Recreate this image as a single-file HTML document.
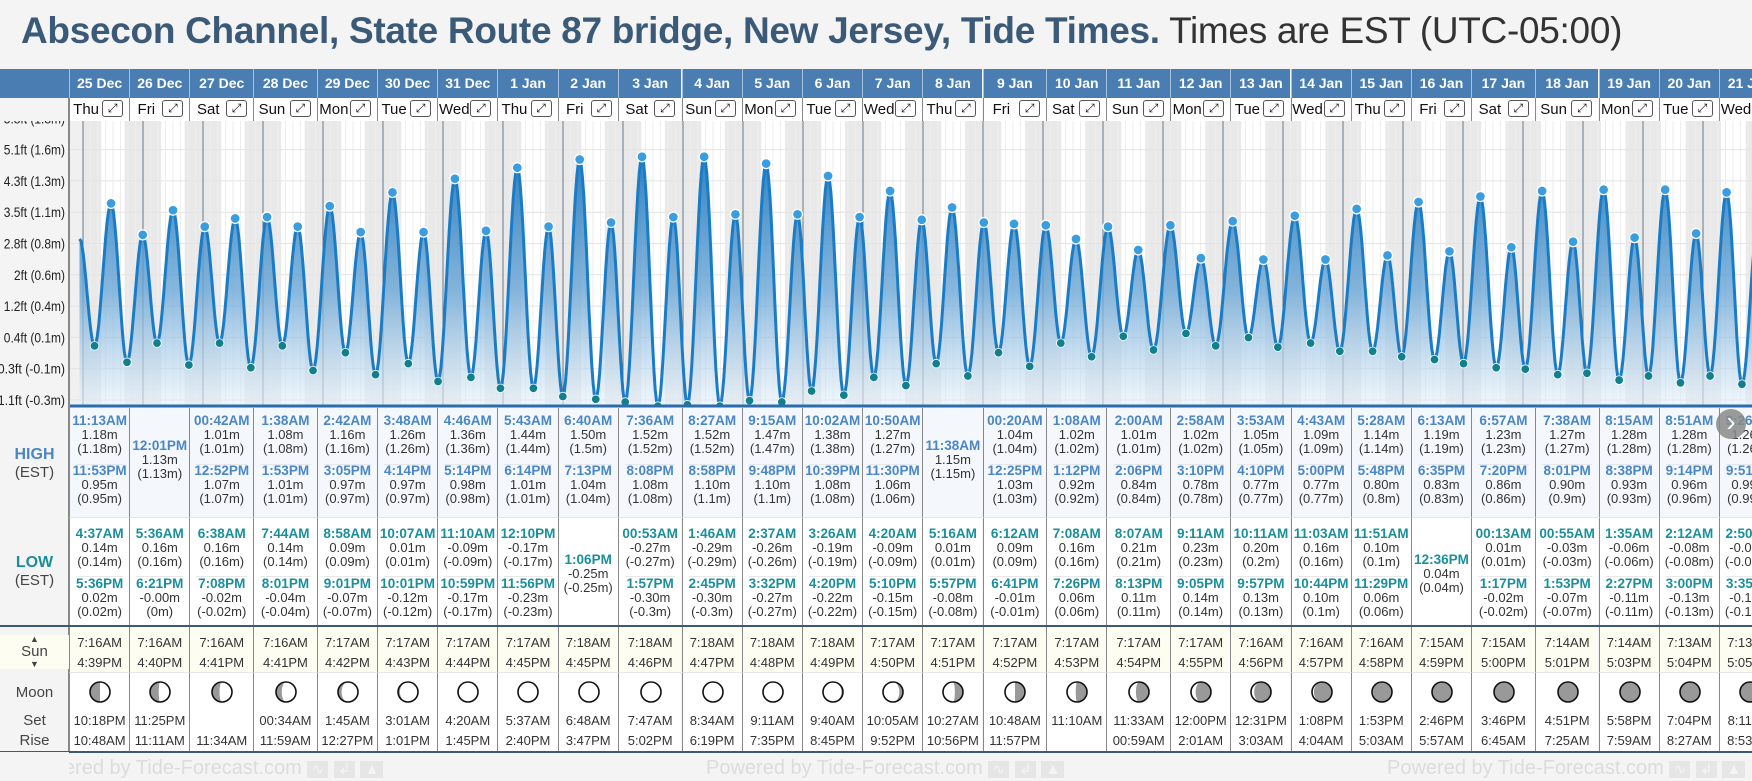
<!DOCTYPE html>
<html><head><meta charset="utf-8">
<style>
*{box-sizing:border-box;margin:0;padding:0}
body{width:1752px;height:781px;background:#f4f4f4;font-family:"Liberation Sans",sans-serif;position:relative;overflow:hidden}
#title{position:absolute;left:21px;top:10px;font-size:37px;white-space:nowrap;color:#3b5a78;letter-spacing:-0.3px}
#title b{font-weight:bold}
#title span{color:#333;font-weight:normal}
.abs{position:absolute}
.hdr{position:absolute;top:69px;height:29px;background:#4a7db2;color:#fff;font-weight:bold;font-size:14px;text-align:center;line-height:29px;border-left:1px solid #a9c2dc}
.dn{position:absolute;top:98px;height:23px;background:#fff;font-size:15px;line-height:23px;border-left:1px solid #888;color:#111}
.dn i{position:absolute;right:6px;top:2px;width:21px;height:17px;border:1px solid #555;border-radius:3px;font-style:normal;font-size:12px;line-height:15px;text-align:center}
.col{position:absolute;border-left:1px solid #888;text-align:center;font-size:13px;color:#333;line-height:14px}
.t{font-weight:bold;font-size:13.5px}
.hi .t{color:#4a86c5}.lo .t{color:#1a8f9b}
.lbl{position:absolute;left:0;width:69px;text-align:center;color:#444;font-size:15px}
.ft{position:absolute;top:757px;font-size:20px;color:#dcdcdc;white-space:nowrap}
</style></head><body>
<div id="title"><b>Absecon Channel, State Route 87 bridge, New Jersey, Tide Times.</b> <span>Times are EST (UTC-05:00)</span></div>
<div class="abs" style="left:0;top:69px;width:69px;height:29px;background:#4a7db2"></div>
<div class="abs" style="left:0;top:98px;width:69px;height:654px;background:#f4f4f4;border-right:1px solid #888"></div>
<svg id="chart" class="abs" style="left:0;top:0" width="1752" height="781"></svg>
<div id="root"></div>
<script>
const days=["25 Dec","26 Dec","27 Dec","28 Dec","29 Dec","30 Dec","31 Dec","1 Jan","2 Jan","3 Jan","4 Jan","5 Jan","6 Jan","7 Jan","8 Jan","9 Jan","10 Jan","11 Jan","12 Jan","13 Jan","14 Jan","15 Jan","16 Jan","17 Jan","18 Jan","19 Jan","20 Jan","21 Jan"];
const weekdays=["Thu","Fri","Sat","Sun","Mon","Tue","Wed","Thu","Fri","Sat","Sun","Mon","Tue","Wed","Thu","Fri","Sat","Sun","Mon","Tue","Wed","Thu","Fri","Sat","Sun","Mon","Tue","Wed"];
const highTimes=[["11:13AM","11:53PM"],["12:01PM"],["00:42AM","12:52PM"],["1:38AM","1:53PM"],["2:42AM","3:05PM"],["3:48AM","4:14PM"],["4:46AM","5:14PM"],["5:43AM","6:14PM"],["6:40AM","7:13PM"],["7:36AM","8:08PM"],["8:27AM","8:58PM"],["9:15AM","9:48PM"],["10:02AM","10:39PM"],["10:50AM","11:30PM"],["11:38AM"],["00:20AM","12:25PM"],["1:08AM","1:12PM"],["2:00AM","2:06PM"],["2:58AM","3:10PM"],["3:53AM","4:10PM"],["4:43AM","5:00PM"],["5:28AM","5:48PM"],["6:13AM","6:35PM"],["6:57AM","7:20PM"],["7:38AM","8:01PM"],["8:15AM","8:38PM"],["8:51AM","9:14PM"],["9:26AM","9:51PM"]];
const highHeights=[[1.18,0.95],[1.13],[1.01,1.07],[1.08,1.01],[1.16,0.97],[1.26,0.97],[1.36,0.98],[1.44,1.01],[1.50,1.04],[1.52,1.08],[1.52,1.10],[1.47,1.10],[1.38,1.08],[1.27,1.06],[1.15],[1.04,1.03],[1.02,0.92],[1.01,0.84],[1.02,0.78],[1.05,0.77],[1.09,0.77],[1.14,0.80],[1.19,0.83],[1.23,0.86],[1.27,0.90],[1.28,0.93],[1.28,0.96],[1.26,0.99]];
const lowTimes=[["4:37AM","5:36PM"],["5:36AM","6:21PM"],["6:38AM","7:08PM"],["7:44AM","8:01PM"],["8:58AM","9:01PM"],["10:07AM","10:01PM"],["11:10AM","10:59PM"],["12:10PM","11:56PM"],["1:06PM"],["00:53AM","1:57PM"],["1:46AM","2:45PM"],["2:37AM","3:32PM"],["3:26AM","4:20PM"],["4:20AM","5:10PM"],["5:16AM","5:57PM"],["6:12AM","6:41PM"],["7:08AM","7:26PM"],["8:07AM","8:13PM"],["9:11AM","9:05PM"],["10:11AM","9:57PM"],["11:03AM","10:44PM"],["11:51AM","11:29PM"],["12:36PM"],["00:13AM","1:17PM"],["00:55AM","1:53PM"],["1:35AM","2:27PM"],["2:12AM","3:00PM"],["2:50AM","3:35PM"]];
const lowHeights=[[0.14,0.02],[0.16,-0.00],[0.16,-0.02],[0.14,-0.04],[0.09,-0.07],[0.01,-0.12],[-0.09,-0.17],[-0.17,-0.23],[-0.25],[-0.27,-0.30],[-0.29,-0.30],[-0.26,-0.27],[-0.19,-0.22],[-0.09,-0.15],[0.01,-0.08],[0.09,-0.01],[0.16,0.06],[0.21,0.11],[0.23,0.14],[0.20,0.13],[0.16,0.10],[0.10,0.06],[0.04],[0.01,-0.02],[-0.03,-0.07],[-0.06,-0.11],[-0.08,-0.13],[-0.08,-0.14]];
const sunrise=["7:16AM","7:16AM","7:16AM","7:16AM","7:17AM","7:17AM","7:17AM","7:17AM","7:18AM","7:18AM","7:18AM","7:18AM","7:18AM","7:17AM","7:17AM","7:17AM","7:17AM","7:17AM","7:17AM","7:16AM","7:16AM","7:16AM","7:15AM","7:15AM","7:14AM","7:14AM","7:13AM","7:13AM"];
const sunset=["4:39PM","4:40PM","4:41PM","4:41PM","4:42PM","4:43PM","4:44PM","4:45PM","4:45PM","4:46PM","4:47PM","4:48PM","4:49PM","4:50PM","4:51PM","4:52PM","4:53PM","4:54PM","4:55PM","4:56PM","4:57PM","4:58PM","4:59PM","5:00PM","5:01PM","5:03PM","5:04PM","5:05PM"];
const moonSet=["10:18PM","11:25PM","","00:34AM","1:45AM","3:01AM","4:20AM","5:37AM","6:48AM","7:47AM","8:34AM","9:11AM","9:40AM","10:05AM","10:27AM","10:48AM","11:10AM","11:33AM","12:00PM","12:31PM","1:08PM","1:53PM","2:46PM","3:46PM","4:51PM","5:58PM","7:04PM","8:11PM"];
const moonRise=["10:48AM","11:11AM","11:34AM","11:59AM","12:27PM","1:01PM","1:45PM","2:40PM","3:47PM","5:02PM","6:19PM","7:35PM","8:45PM","9:52PM","10:56PM","11:57PM","","00:59AM","2:01AM","3:03AM","4:04AM","5:03AM","5:57AM","6:45AM","7:25AM","7:59AM","8:27AM","8:53AM"];
const moonPhase=[0.25,0.27,0.29,0.32,0.36,0.4,0.43,0.46,0.48,0.5,0.52,0.55,0.59,0.64,0.72,0.75,0.77,0.8,0.84,0.87,0.9,0.93,0.96,0.985,0.995,0.01,0.03,0.05];
const yTicks=["-1.1ft (-0.3m)","-0.3ft (-0.1m)","0.4ft (0.1m)","1.2ft (0.4m)","2ft (0.6m)","2.8ft (0.8m)","3.5ft (1.1m)","4.3ft (1.3m)","5.1ft (1.6m)","5.8ft (1.8m)"];

const NS="http://www.w3.org/2000/svg";
const svg=document.getElementById('chart');
const root=document.getElementById('root');
const CX0=83,PXH=2.5,CT=121,CB=406;
function hrs(s){let m=s.match(/(\d+):(\d+)(AM|PM)/);let h=+m[1]%12;if(m[3]=="PM")h+=12;return h+(+m[2])/60;}
function xT(d,h){return CX0+(d*24+h)*PXH;}
function yM(m){return 365-137*m;}
function el(t,a,p){const e=document.createElementNS(NS,t);for(const k in a)e.setAttribute(k,a[k]);(p||svg).appendChild(e);return e;}
const colX=[];let cx=69;
days.forEach((d,i)=>{colX.push(cx);const all=[...highTimes[i],...lowTimes[i],moonSet[i],moonRise[i]].join(' ');cx+=60.2+(all.indexOf('00:')>=0?3.5:0);});
colX.push(cx);
const defs=el('defs',{});
const cp=el('clipPath',{id:'cc'},defs);el('rect',{x:69,y:CT,width:1683,height:CB-CT},cp);
const cp2=el('clipPath',{id:'yc'},defs);el('rect',{x:0,y:CT,width:69,height:CB-CT+6},cp2);
const lg=el('linearGradient',{id:'ag',x1:0,y1:150,x2:0,y2:CB,gradientUnits:'userSpaceOnUse'},defs);
el('stop',{offset:0,'stop-color':'#1f78bf','stop-opacity':0.95},lg);
el('stop',{offset:0.55,'stop-color':'#6aa6d6','stop-opacity':0.8},lg);
el('stop',{offset:1,'stop-color':'#e6f1fa','stop-opacity':0.6},lg);
const g=el('g',{'clip-path':'url(#cc)'});

el('rect',{x:69,y:CT,width:1683,height:CB-CT,fill:'#fff'},g);
el('rect',{x:69,y:CT,width:14,height:CB-CT,fill:'#f0f0f0'},g);
for(let i=0;i<days.length;i++){
  const s=xT(i,hrs(sunset[i])),r=i+1<days.length?xT(i+1,hrs(sunrise[i+1])):xT(i+1,7.2);
  const n=el('rect',{x:s,y:CT,width:r-s,height:CB-CT,fill:'#e9e9e9'},g);
  
}
el('rect',{x:CX0,y:CT,width:xT(0,hrs(sunrise[0]))-CX0,height:CB-CT,fill:'#e9e9e9'},g);
for(let k=0;k<days.length*8;k++){const x=CX0+k*3*PXH;if(k%8)el('line',{x1:x,x2:x,y1:CT,y2:CB,stroke:'#eeeeee','stroke-width':1},g);}
yTicks.forEach((t,i)=>{const y=400-31.3*i;el('line',{x1:69,x2:1752,y1:y,y2:y,stroke:'#e4e4e4'},g);});
for(let i=0;i<=days.length;i++){const x=xT(i,0);const l=el('line',{x1:x,x2:x,y1:CT,y2:CB,stroke:'#66788a','stroke-width':1},g);}
const ext=[{d:-1,h:22.6,m:0.92,k:'h'}];
days.forEach((d,i)=>{highTimes[i].forEach((t,j)=>ext.push({d:i,h:hrs(t),m:highHeights[i][j],k:'h'}));lowTimes[i].forEach((t,j)=>ext.push({d:i,h:hrs(t),m:lowHeights[i][j],k:'l'}));});
ext.push({d:28,h:4.2,m:-0.08,k:'l'});
ext.forEach(e=>{e.x=xT(e.d,e.h);e.y=yM(e.m);});ext.sort((a,b)=>a.x-b.x);
let pts=[];
for(let i=0;i<ext.length-1;i++){const a=ext[i],b=ext[i+1];for(let s=0;s<12;s++){const f=s/12,c=(1-Math.cos(Math.PI*f))/2;pts.push([a.x+(b.x-a.x)*f,a.y+(b.y-a.y)*c]);}}
pts.push([ext[ext.length-1].x,ext[ext.length-1].y]);
const ln=pts.map(p=>p[0].toFixed(1)+','+p[1].toFixed(1)).join(' L');
const area=el('path',{d:'M'+pts[0][0]+','+CB+' L'+ln+' L'+pts[pts.length-1][0]+','+CB+' Z',fill:'url(#ag)'},g);

const line=el('path',{d:'M'+ln,fill:'none',stroke:'#1b7cc6','stroke-width':3},g);

ext.forEach(e=>{if(e.d<0||e.d>27)return;const c=el('circle',{cx:e.x,cy:e.y,r:e.k=='h'?5:4.3,fill:e.k=='h'?'#3a9de0':'#12808c',stroke:'#fff','stroke-width':e.k=='h'?1.3:0.8},g);
});
el('line',{x1:69,x2:1752,y1:CB,y2:CB,stroke:'#2b6cad','stroke-width':3});
el('line',{x1:69.5,x2:69.5,y1:98,y2:752,stroke:'#888','stroke-width':1});
const yg=el('g',{'clip-path':'url(#yc)'});
yTicks.forEach((t,i)=>{const y=400-31.3*i;const tx=el('text',{x:65,y:y+5,'text-anchor':'end','font-size':14,fill:'#222',textLength:(t.length*5.1).toFixed(1),lengthAdjust:'spacingAndGlyphs'},yg);tx.textContent=t;});
function add(html,cls,style,name,inter){const d=document.createElement('div');d.className=cls;d.setAttribute('style',style);d.innerHTML=html;


root.appendChild(d);return d;}
function entry(t,m,top){return `<div style="position:absolute;left:0;right:0;top:${top}px"><div class="t">${t}</div><div>${(m<0||Object.is(m,-0)?'-':'')+Math.abs(m).toFixed(2)}m</div><div>(${m<0?'-':''}${Math.abs(m)==0?'0':Math.abs(+m.toFixed(2))}m)</div></div>`;}
days.forEach((d,i)=>{
  const x=colX[i],w=colX[i+1]-x;
  add(d,'hdr',`left:${x}px;width:${w}px`,'date-header',false);
  add(`<span style="position:absolute;left:0;width:${w-28}px;text-align:center">${weekdays[i]}</span><i>⤢</i>`,'dn',`left:${x}px;width:${w}px`,'day-expand-button',true);
  const H=highTimes[i],L=lowTimes[i];
  let hh=H.length==2?entry(H[0],highHeights[i][0],6)+`<div style="position:absolute;left:6px;right:6px;top:56px;border-top:1px solid #e4e8ec"></div>`+entry(H[1],highHeights[i][1],56):entry(H[0],highHeights[i][0],31);
  add(hh,'col hi',`left:${x}px;width:${w}px;top:408px;height:109px;background:#f4f8fc`,'high-tide-cell',false);
  let lh=L.length==2?entry(L[0],lowHeights[i][0],9)+`<div style="position:absolute;left:6px;right:6px;top:58px;border-top:1px solid #e8e8e8"></div>`+entry(L[1],lowHeights[i][1],59):entry(L[0],lowHeights[i][0],35);
  add(lh,'col lo',`left:${x}px;width:${w}px;top:517px;height:109px;background:#fff;border-top:1px solid #e6e6e6`,'low-tide-cell',false);
  add(`<div style="position:absolute;left:0;right:0;top:9px">${sunrise[i]}</div><div style="position:absolute;left:0;right:0;top:29px">${sunset[i]}</div>`,'col',`left:${x}px;width:${w}px;top:627px;height:45px;background:#fdfdf1`,'sun-times-cell',false);
  const p=moonPhase[i],r=10,c=Math.cos(2*Math.PI*p),rx=Math.max(0.01,Math.abs(c)*r);
  const wax=p<0.5;
  const s1=wax?1:0;
  const s2=wax?(c<0?1:0):(c<0?0:1);
  const lit=`M0,${-r} A${r},${r} 0 0 ${s1} 0,${r} A${rx},${r} 0 0 ${s2} 0,${-r} Z`;
  const moon=`<svg width="24" height="24" viewBox="-12 -12 24 24" style="position:absolute;left:${w/2-12}px;top:7px"><circle r="10" fill="#999"/><path d="${lit}" fill="#fff"/><circle r="10" fill="none" stroke="#111" stroke-width="1.6"/></svg>`;
  add(moon+`<div style="position:absolute;left:0;right:0;top:41px">${moonSet[i]}</div><div style="position:absolute;left:0;right:0;top:61px">${moonRise[i]}</div>`,'col',`left:${x}px;width:${w}px;top:672px;height:80px;background:#fff;border-top:1px solid #e6e6e6`,'moon-cell',false);
});
add('','abs','left:0;top:625px;width:1752px;height:2px;background:#3b5a78','row-divider',false);
add('','abs','left:0;top:751px;width:1752px;height:1.5px;background:#3b5a78','row-divider',false);
add('<div style="color:#4a86c5;font-weight:bold;font-size:16px">HIGH</div><div>(EST)</div>','lbl','top:446px;line-height:18px','high-label',false);
add('<div style="color:#1a8f9b;font-weight:bold;font-size:16px">LOW</div><div>(EST)</div>','lbl','top:554px;line-height:18px','low-label',false);
add('<div style="font-size:9px;line-height:9px">▲</div><div>Sun</div><div style="font-size:9px;line-height:9px">▼</div>','lbl','top:635px;line-height:16px;background:#fdfdf1','sun-label',false);
add('Moon','lbl','top:684px','moon-label',false);
add('Set','lbl','top:712px','moonset-label',false);
add('Rise','lbl','top:732px','moonrise-label',false);
add('›','abs','left:1716px;top:409px;width:30px;height:30px;border-radius:15px;background:#8a8a8a;color:#fff;font-size:28px;line-height:26px;text-align:center;opacity:.85','next-button',true);
[-44,637,1318].forEach(x=>add('Powered by Tide-Forecast.com <span style="background:#e6e6e6;color:#f4f4f4;font-size:15px">&nbsp;∿&nbsp;</span> <span style="background:#e6e6e6;color:#f4f4f4;font-size:15px">&nbsp;↲&nbsp;</span> <span style="background:#e6e6e6;color:#f4f4f4;font-size:15px">&nbsp;▲&nbsp;</span>','ft',`left:${x+69}px`,'footer-credit',false));
add('','abs','left:0;top:752px;width:69px;height:29px;background:#f4f4f4','footer-left',false);
</script>
</body></html>
